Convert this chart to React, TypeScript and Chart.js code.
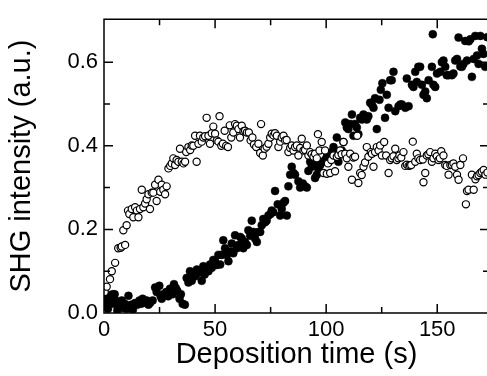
import { useEffect, useRef } from "react";
import { Chart, registerables } from "chart.js";

Chart.register(...registerables);

// Hollow markers: first sample set (time in s, SHG signal in a.u.)
const openTime = [
  0.3, 1.2, 2.7, 3.5, 5.0, 6.4, 7.5, 8.0, 8.7, 9.5, 10.2, 10.8, 11.4, 12.5, 13.2, 14.0, 14.8, 15.5, 16.2, 17.0,
  17.7, 18.5, 19.2, 20.0, 20.7, 21.5, 22.2, 23.0, 23.7, 24.5, 25.3, 26.0, 26.7, 27.5, 28.2, 29.0, 29.8, 30.5, 31.2, 32.0,
  32.7, 33.5, 34.2, 35.0, 35.8, 36.5, 37.0, 38.0, 38.8, 39.5, 40.2, 41.0, 41.7, 42.5, 43.2, 44.0, 44.7, 45.5, 46.2, 47.0,
  47.7, 48.5, 49.2, 50.0, 50.8, 51.5, 52.0, 52.8, 53.5, 54.3, 55.0, 55.8, 56.6, 57.3, 58.2, 59.0, 59.8, 60.5, 61.2, 62.0,
  62.8, 63.5, 64.3, 65.2, 66.0, 66.8, 67.5, 68.5, 69.5, 70.3, 70.7, 71.5, 72.3, 73.2, 74.0, 74.8, 75.5, 76.3, 77.0, 77.8,
  78.5, 79.3, 80.0, 80.8, 81.5, 82.2, 83.0, 83.8, 84.5, 85.3, 86.0, 86.8, 87.5, 88.3, 89.0, 89.8, 90.5, 91.3, 92.0, 92.8,
  93.5, 94.3, 95.0, 95.8, 96.3, 97.0, 98.0, 98.8, 99.5, 100.3, 100.8, 101.8, 102.3, 103.3, 104.0, 104.8, 105.5, 106.3, 107.0, 107.8,
  108.6, 109.3, 110.0, 110.8, 111.6, 112.3, 113.0, 114.0, 114.5, 115.3, 116.0, 116.8, 117.5, 118.3, 119.0, 120.1, 120.6, 121.3, 122.0, 122.8,
  123.6, 124.3, 125.1, 126.1, 127.0, 128.1, 128.8, 129.5, 130.3, 131.1, 131.8, 132.5, 133.0, 133.8, 134.8, 135.6, 136.3, 137.1, 137.7, 138.3,
  139.0, 140.1, 140.8, 141.5, 142.3, 143.5, 143.8, 144.6, 145.3, 146.0, 146.8, 147.6, 148.3, 149.1, 149.8, 150.6, 151.2, 151.8, 152.8, 153.6,
  154.3, 155.1, 155.9, 156.6, 157.3, 158.1, 158.9, 159.6, 160.4, 161.6, 162.9, 163.4, 164.1, 165.6, 166.4, 167.2, 167.9, 168.6, 169.4, 170.1,
  170.9, 171.7, 172.6,
];
const openSignal = [
  0.05, 0.063, 0.081, 0.1, 0.12, 0.155, 0.156, 0.159, 0.198, 0.163, 0.21, 0.245, 0.237, 0.249, 0.229, 0.253, 0.245, 0.229, 0.249, 0.295,
  0.253, 0.262, 0.272, 0.284, 0.249, 0.288, 0.288, 0.307, 0.268, 0.319, 0.29, 0.307, 0.295, 0.284, 0.303, 0.346, 0.352, 0.358, 0.37, 0.354,
  0.366, 0.362, 0.393, 0.362, 0.358, 0.362, 0.385, 0.397, 0.39, 0.401, 0.4, 0.424, 0.362, 0.405, 0.424, 0.41, 0.42, 0.423, 0.467, 0.424,
  0.405, 0.43, 0.446, 0.429, 0.413, 0.41, 0.471, 0.4, 0.405, 0.436, 0.4, 0.397, 0.449, 0.42, 0.432, 0.452, 0.448, 0.44, 0.42, 0.448,
  0.435, 0.436, 0.432, 0.432, 0.413, 0.42, 0.403, 0.397, 0.405, 0.383, 0.452, 0.377, 0.393, 0.398, 0.405, 0.42, 0.429, 0.425, 0.43, 0.424,
  0.397, 0.41, 0.42, 0.424, 0.413, 0.414, 0.385, 0.395, 0.401, 0.389, 0.397, 0.401, 0.377, 0.395, 0.417, 0.389, 0.39, 0.401, 0.377, 0.385,
  0.38, 0.374, 0.381, 0.37, 0.428, 0.389, 0.409, 0.335, 0.389, 0.333, 0.358, 0.335, 0.366, 0.377, 0.339, 0.374, 0.378, 0.389, 0.38, 0.409,
  0.381, 0.37, 0.35, 0.381, 0.319, 0.372, 0.374, 0.424, 0.311, 0.335, 0.33, 0.35, 0.36, 0.397, 0.374, 0.385, 0.381, 0.35, 0.385, 0.397,
  0.389, 0.401, 0.377, 0.409, 0.377, 0.335, 0.366, 0.37, 0.375, 0.393, 0.366, 0.37, 0.377, 0.372, 0.385, 0.352, 0.355, 0.352, 0.353, 0.354,
  0.41, 0.362, 0.381, 0.37, 0.366, 0.367, 0.313, 0.335, 0.377, 0.38, 0.385, 0.362, 0.37, 0.381, 0.375, 0.366, 0.37, 0.387, 0.377, 0.354,
  0.352, 0.331, 0.354, 0.355, 0.358, 0.35, 0.331, 0.319, 0.354, 0.37, 0.26, 0.292, 0.295, 0.331, 0.295, 0.32, 0.327, 0.33, 0.335, 0.338,
  0.342, 0.331, 0.336,
];

// Solid markers: second sample set (time in s, SHG signal in a.u.)
const filledTime = [
  0.4, 0.9, 1.2, 1.8, 2.6, 3.9, 4.2, 4.8, 5.2, 6.0, 6.5, 7.2, 8.0, 8.7, 9.3, 10.2, 11.0, 11.4, 12.2, 13.0,
  14.0, 15.0, 16.0, 16.7, 17.4, 18.3, 19.2, 20.0, 20.7, 21.9, 23.0, 23.7, 24.9, 25.5, 26.0, 26.7, 28.0, 28.9, 29.7, 31.0,
  31.5, 32.3, 33.0, 34.0, 34.6, 35.4, 36.4, 37.2, 38.0, 38.7, 39.5, 40.2, 41.0, 41.8, 42.5, 43.2, 44.0, 44.7, 45.3, 46.3,
  47.0, 47.7, 48.5, 49.2, 50.0, 50.8, 51.5, 52.3, 53.0, 53.7, 54.5, 55.3, 56.0, 56.8, 57.5, 58.2, 59.0, 59.8, 60.5, 61.3,
  62.0, 62.7, 63.5, 64.3, 65.0, 65.8, 66.5, 67.3, 68.0, 68.8, 69.5, 70.3, 71.0, 71.7, 72.5, 73.2, 74.0, 74.8, 75.5, 76.2,
  77.0, 78.2, 79.3, 80.0, 80.8, 81.5, 82.3, 83.0, 83.8, 84.5, 85.3, 86.0, 87.5, 88.3, 89.5, 90.5, 91.3, 92.0, 92.8, 93.5,
  94.3, 95.0, 95.8, 96.5, 97.3, 98.0, 98.8, 99.5, 100.3, 101.0, 101.8, 102.5, 103.3, 104.0, 104.8, 105.5, 106.3, 107.0, 107.8, 108.6,
  109.3, 110.0, 110.8, 111.6, 112.3, 113.0, 113.8, 114.5, 115.3, 116.1, 116.8, 117.6, 118.3, 119.0, 119.8, 120.6, 121.3, 122.0, 122.8, 124.0,
  124.6, 125.3, 126.5, 127.3, 128.1, 128.8, 129.5, 130.3, 131.1, 132.6, 133.4, 134.1, 135.6, 136.3, 137.1, 138.6, 139.3, 140.1, 140.8, 141.5,
  142.3, 143.1, 143.8, 144.6, 145.3, 146.1, 147.6, 148.0, 148.3, 149.1, 149.9, 151.4, 152.1, 152.8, 153.6, 154.3, 155.1, 156.6, 157.3, 158.1,
  158.9, 159.6, 160.4, 161.1, 161.8, 162.6, 163.4, 164.2, 164.9, 165.6, 166.4, 167.1, 167.9, 168.6, 169.4, 170.1, 170.8, 171.6, 172.5,
];
const filledSignal = [
  0.02, 0.03, 0.045, 0.01, 0.028, 0.045, 0.022, 0.045, 0.03, 0.006, 0.016, 0.025, 0.03, 0.012, 0.022, 0.01, 0.041, 0.016, 0.02, 0.008,
  0.024, 0.02, 0.03, 0.022, 0.034, 0.025, 0.03, 0.02, 0.024, 0.03, 0.061, 0.05, 0.065, 0.04, 0.034, 0.045, 0.05, 0.04, 0.058, 0.045,
  0.069, 0.06, 0.053, 0.034, 0.045, 0.022, 0.02, 0.084, 0.073, 0.1, 0.077, 0.092, 0.088, 0.104, 0.096, 0.1, 0.077, 0.112, 0.092, 0.104,
  0.1, 0.116, 0.108, 0.127, 0.124, 0.115, 0.139, 0.116, 0.139, 0.174, 0.155, 0.139, 0.124, 0.147, 0.166, 0.143, 0.186, 0.155, 0.163, 0.182,
  0.178, 0.155, 0.17, 0.163, 0.198, 0.185, 0.221, 0.194, 0.178, 0.17, 0.194, 0.194, 0.21, 0.225, 0.217, 0.221, 0.233, 0.236, 0.245, 0.241,
  0.292, 0.26, 0.233, 0.249, 0.264, 0.268, 0.233, 0.303, 0.331, 0.35, 0.335, 0.331, 0.315, 0.3, 0.31, 0.303, 0.3, 0.34, 0.362, 0.35,
  0.354, 0.323, 0.331, 0.345, 0.354, 0.36, 0.362, 0.366, 0.374, 0.36, 0.381, 0.385, 0.397, 0.38, 0.42, 0.362, 0.38, 0.389, 0.409, 0.456,
  0.444, 0.44, 0.452, 0.475, 0.424, 0.452, 0.444, 0.428, 0.467, 0.463, 0.475, 0.471, 0.463, 0.471, 0.503, 0.499, 0.491, 0.514, 0.44, 0.51,
  0.534, 0.55, 0.467, 0.522, 0.491, 0.557, 0.557, 0.577, 0.483, 0.495, 0.499, 0.499, 0.491, 0.561, 0.495, 0.546, 0.541, 0.577, 0.553, 0.589,
  0.589, 0.546, 0.522, 0.53, 0.514, 0.557, 0.589, 0.667, 0.546, 0.541, 0.573, 0.577, 0.6, 0.604, 0.589, 0.569, 0.569, 0.569, 0.573, 0.604,
  0.608, 0.659, 0.59, 0.589, 0.596, 0.651, 0.604, 0.65, 0.655, 0.565, 0.608, 0.663, 0.616, 0.596, 0.663, 0.632, 0.62, 0.589, 0.66,
];

// Axis ranges and tick positions
const timeMax = 173.3;
const signalMax = 0.703;
const timeMajorTicks = [0, 50, 100, 150];
const timeMinorTicks = [25, 75, 125];
const signalMajorTicks = [0, 0.2, 0.4, 0.6];
const signalMinorTicks = [0.1, 0.3, 0.5];

const FONT = "'Liberation Sans', Arial, Helvetica, sans-serif";

// Closed box around the plot area with inward-pointing tick marks on all four sides
const frameWithInnerTicks = {
  id: "frameWithInnerTicks",
  afterDraw(chart: any) {
    const { ctx, chartArea, scales } = chart;
    const { left, right, top, bottom } = chartArea;
    const major = 9;
    const minor = 6;
    ctx.save();
    ctx.strokeStyle = "#000";
    ctx.lineWidth = 1.5;
    ctx.beginPath();
    ctx.rect(left, top, right - left, bottom - top);
    const xMarks = [
      ...timeMajorTicks.map((v) => [v, major]),
      ...timeMinorTicks.map((v) => [v, minor]),
    ];
    for (const [v, len] of xMarks) {
      const px = scales.x.getPixelForValue(v);
      ctx.moveTo(px, bottom);
      ctx.lineTo(px, bottom - len);
      ctx.moveTo(px, top);
      ctx.lineTo(px, top + len);
    }
    const yMarks = [
      ...signalMajorTicks.map((v) => [v, major]),
      ...signalMinorTicks.map((v) => [v, minor]),
    ];
    for (const [v, len] of yMarks) {
      const py = scales.y.getPixelForValue(v);
      ctx.moveTo(left, py);
      ctx.lineTo(left + len, py);
      ctx.moveTo(right, py);
      ctx.lineTo(right - len, py);
    }
    ctx.stroke();
    ctx.restore();
  },
};

export default function App() {
  const canvasRef = useRef<HTMLCanvasElement | null>(null);

  useEffect(() => {
    const canvas = canvasRef.current;
    if (!canvas) return;

    const openPoints = openTime.map((t, i) => ({ x: t, y: openSignal[i] }));
    const filledPoints = filledTime.map((t, i) => ({ x: t, y: filledSignal[i] }));

    const chart = new Chart(canvas, {
      type: "scatter",
      data: {
        datasets: [
          {
            label: "open",
            data: openPoints,
            pointRadius: 3.6,
            pointBorderWidth: 1.2,
            pointBorderColor: "#000",
            pointBackgroundColor: "#fff",
            showLine: false,
          },
          {
            label: "filled",
            data: filledPoints,
            pointRadius: 4,
            pointBorderWidth: 0.5,
            pointBorderColor: "#000",
            pointBackgroundColor: "#000",
            showLine: false,
          },
        ],
      },
      options: {
        responsive: false,
        animation: false,
        devicePixelRatio: 1,
        layout: { padding: { top: 13, right: 7, left: 0, bottom: 0 } },
        plugins: {
          legend: { display: false },
          tooltip: { enabled: false },
        },
        scales: {
          x: {
            type: "linear",
            min: 0,
            max: timeMax,
            grid: { display: false, drawTicks: false },
            border: { display: false },
            afterBuildTicks: (scale: any) => {
              scale.ticks = timeMajorTicks.map((value) => ({ value }));
            },
            afterFit: (scale: any) => {
              scale.height = 63;
            },
            ticks: {
              padding: 4,
              color: "#000",
              font: { family: FONT, size: 22 },
              maxRotation: 0,
              callback: (v: any) => String(v),
            },
            title: {
              display: true,
              text: "Deposition time (s)",
              color: "#000",
              font: { family: FONT, size: 29 },
              padding: { top: 0, bottom: 4 },
            },
          },
          y: {
            type: "linear",
            min: 0,
            max: signalMax,
            grid: { display: false, drawTicks: false },
            border: { display: false },
            afterBuildTicks: (scale: any) => {
              scale.ticks = signalMajorTicks.map((value) => ({ value }));
            },
            afterFit: (scale: any) => {
              scale.width = 104;
            },
            ticks: {
              padding: 6,
              color: "#000",
              font: { family: FONT, size: 22 },
              callback: (v: any) => Number(v).toFixed(1),
            },
            title: {
              display: true,
              text: "SHG intensity (a.u.)",
              color: "#000",
              font: { family: FONT, size: 29 },
              padding: { top: 5, bottom: 0 },
            },
          },
        },
      },
      plugins: [frameWithInnerTicks],
    });

    return () => chart.destroy();
  }, []);

  return (
    <div
      style={{
        position: "absolute",
        left: 0,
        top: 0,
        width: 487,
        height: 376,
        overflow: "hidden",
        background: "#fff",
      }}
    >
      <canvas ref={canvasRef} width={496} height={376} style={{ display: "block" }} />
    </div>
  );
}
